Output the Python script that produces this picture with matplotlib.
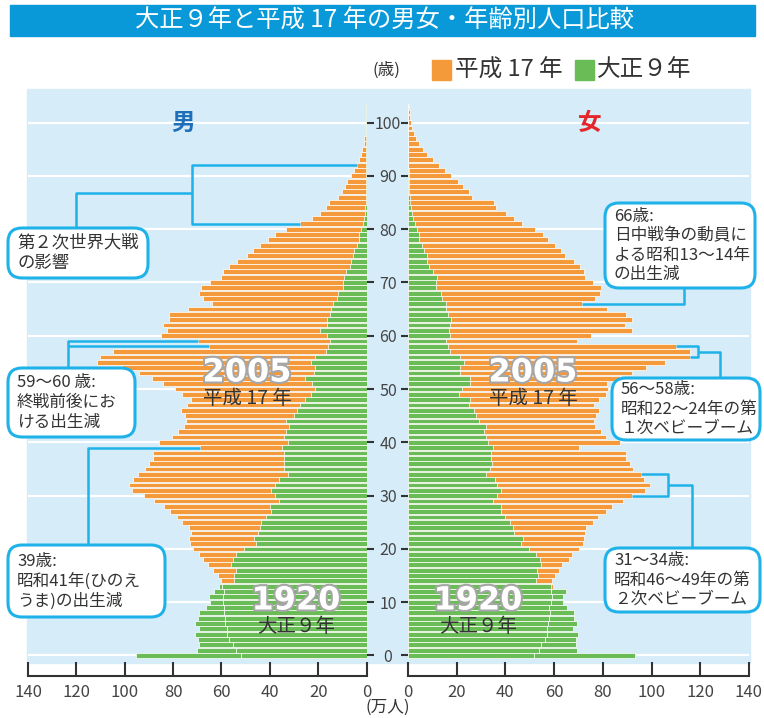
import matplotlib
matplotlib.use("Agg")
import matplotlib.pyplot as plt
import matplotlib.patheffects as pe
from matplotlib.patches import Rectangle, FancyBboxPatch
import numpy as np

plt.rcParams["font.family"] = ["Noto Sans CJK JP", "DejaVu Sans"]

# population by single year of age, 0..103 (万人)
ages = np.arange(0, 104)

male_2005 = [
    52.1, 54.0, 55.2, 56.9, 57.6, 57.9, 58.7, 58.7, 59.0, 59.0,
    59.2, 59.2, 59.0, 59.8, 60.3, 61.6, 63.5, 65.7, 67.6, 69.3,
    71.8, 73.1, 73.4, 72.7, 73.4, 76.3, 78.4, 81.4, 83.7, 87.9,
    92.0, 97.1, 98.2, 96.7, 94.5, 91.7, 90.1, 88.4, 88.4, 69.0,
    85.8, 80.4, 78.1, 75.6, 74.7, 75.2, 76.9, 74.2, 72.7, 76.3,
    79.2, 84.2, 88.8, 94.1, 101.2, 111.3, 110.3, 104.8, 65.3, 69.7,
    85.1, 82.6, 84.3, 81.8, 81.8, 73.8, 64.0, 67.8, 69.4, 68.6,
    64.7, 60.3, 59.5, 56.9, 53.7, 49.6, 47.1, 44.2, 40.8, 38.0,
    33.1, 27.5, 22.6, 19.3, 16.8, 15.6, 11.6, 10.2, 9.0, 7.9,
    6.6, 5.2, 4.1, 3.3, 2.3, 1.7, 1.2, 1.0, 0.4, 0.3,
    0.2, 0.15, 0.1, 0.05,
]
male_1920 = [
    95.5, 70.0, 69.4, 69.7, 71.1, 69.1, 71.1, 69.7, 69.4, 66.5,
    64.9, 65.3, 63.1, 61.2, 54.8, 54.8, 54.0, 56.1, 55.2, 54.0,
    50.7, 45.5, 46.6, 44.8, 44.1, 43.8, 41.6, 39.7, 39.9, 36.0,
    38.0, 39.4, 37.9, 36.0, 32.5, 34.2, 34.3, 34.3, 34.0, 34.8,
    32.5, 34.0, 33.1, 32.0, 33.1, 29.8, 28.7, 27.5, 25.6, 23.1,
    21.5, 22.6, 25.6, 21.8, 21.5, 23.1, 21.5, 16.9, 16.0, 14.9,
    16.5, 19.4, 16.5, 16.5, 15.3, 14.6, 14.0, 12.4, 11.8, 9.8,
    9.6, 9.4, 8.3, 6.9, 6.3, 5.6, 5.0, 4.1, 3.2, 2.9,
    2.3, 1.5, 1.0, 0.7, 0.5, 0.4, 0.3, 0.25, 0.2, 0.15,
    0.1, 0.1, 0.08, 0.06, 0.05, 0.05, 0.04, 0.04, 0.03, 0.03,
    0.02, 0.02, 0.02, 0.02,
]
female_2005 = [
    51.8, 53.9, 54.4, 56.2, 56.9, 57.2, 57.6, 58.0, 58.3, 58.0,
    58.7, 59.1, 58.7, 59.6, 59.1, 60.2, 61.8, 63.4, 66.1, 67.2,
    70.1, 71.8, 72.3, 72.5, 73.1, 75.9, 78.1, 81.4, 83.7, 88.2,
    92.1, 97.1, 99.2, 96.8, 95.5, 92.4, 91.3, 89.7, 89.4, 70.2,
    87.2, 81.4, 79.2, 76.6, 76.3, 77.1, 78.5, 76.3, 78.5, 81.3,
    82.0, 81.7, 86.9, 92.0, 97.8, 105.6, 115.6, 115.6, 109.9, 69.4,
    75.2, 92.0, 89.2, 92.0, 89.5, 81.6, 71.5, 76.9, 78.8, 79.2,
    76.0, 72.5, 72.2, 70.5, 68.0, 64.5, 62.7, 60.2, 57.4, 55.6,
    52.1, 46.6, 43.7, 40.4, 36.2, 35.4, 26.4, 25.1, 22.6, 20.5,
    17.6, 15.2, 12.7, 10.2, 7.9, 6.1, 4.4, 3.2, 2.3, 1.5,
    1.2, 0.8, 0.7, 0.4,
]
female_1920 = [
    93.0, 69.3, 69.0, 69.0, 69.8, 67.6, 69.3, 68.3, 68.0, 65.3,
    63.6, 63.5, 64.9, 58.7, 52.5, 53.3, 53.0, 54.5, 54.1, 52.5,
    49.6, 46.3, 47.4, 43.5, 43.0, 41.9, 39.8, 38.2, 38.0, 34.7,
    36.5, 38.3, 36.5, 35.7, 32.1, 33.7, 34.4, 34.0, 33.9, 34.8,
    33.0, 32.1, 31.3, 32.1, 29.1, 28.1, 27.3, 25.2, 25.5, 21.1,
    22.2, 25.5, 25.6, 21.5, 21.5, 22.9, 21.3, 17.1, 16.4, 15.6,
    17.3, 17.0, 17.2, 17.6, 16.4, 15.7, 15.6, 13.9, 13.5, 11.6,
    11.6, 11.8, 10.3, 8.8, 8.0, 8.0, 6.6, 5.6, 4.6, 4.5,
    3.6, 2.8, 1.9, 1.5, 1.1, 1.0, 0.7, 0.6, 0.5, 0.4,
    0.3, 0.3, 0.2, 0.2, 0.15, 0.1, 0.1, 0.05, 0.05, 0.05,
    0.05, 0.05, 0.05, 0.05,
]

x_ticks = [0, 20, 40, 60, 80, 100, 120, 140]
age_ticks = list(range(0, 101, 10))

ORANGE = "#f59a3b"
GREEN = "#69bc56"
BG = "#d6ecf9"
CYAN = "#1fb2e8"
TEXT = "#333333"

W, H = 764, 718
fig = plt.figure(figsize=(W / 100, H / 100), dpi=100)


def box(l, t, r, b):
    return [l / W, 1 - b / H, (r - l) / W, (b - t) / H]


def overlay(z):
    a = fig.add_axes([0, 0, 1, 1], zorder=z)
    a.set_xlim(0, W)
    a.set_ylim(H, 0)
    a.axis("off")
    a.patch.set_visible(False)
    return a


bg = overlay(0)
bg.add_patch(Rectangle((10, 5), 745, 31, color="#0a99d8"))
bg.add_patch(Rectangle((27, 89), 723, 574, color=BG))

ax_l = fig.add_axes(box(28, 89, 366.5, 663), zorder=1)
ax_r = fig.add_axes(box(408, 89, 749, 663), zorder=1)


def draw_side(ax, v2005, v1920):
    v2005 = np.asarray(v2005)
    v1920 = np.asarray(v1920)
    kw = dict(height=0.9, edgecolor="white", linewidth=0.5)
    ax.barh(ages, v2005, color=ORANGE, zorder=2, **kw)
    ax.barh(ages, np.minimum(v1920, v2005), color=GREEN, zorder=3, **kw)
    extra = np.clip(v1920 - v2005, 0, None)
    m = extra > 0
    ax.barh(ages[m], extra[m], left=v2005[m], color=GREEN, zorder=3, **kw)


draw_side(ax_l, male_2005, male_1920)
draw_side(ax_r, female_2005, female_1920)

for ax in (ax_l, ax_r):
    ax.set_facecolor("none")
    ax.set_ylim(-1.41, 106.3)
    ax.set_yticks(age_ticks)
    ax.yaxis.grid(True, color="white", linewidth=1.6)
    ax.set_axisbelow(True)
    ax.set_xticks(x_ticks)
    for s in ("top", "left", "right"):
        ax.spines[s].set_visible(False)
    ax.spines["bottom"].set_position(("outward", 9))
    ax.spines["bottom"].set_linewidth(1.5)
    ax.spines["bottom"].set_color(TEXT)
    ax.tick_params(axis="x", direction="in", length=10, width=1.5, color=TEXT,
                   labelsize=12, labelcolor="#444444", pad=6)

ax_l.set_xlim(140, 0)
ax_r.set_xlim(0, 140)
ax_l.yaxis.tick_right()
ax_l.tick_params(axis="y", direction="out", length=5, width=1.5, color=TEXT,
                 labelright=False)
ax_r.tick_params(axis="y", direction="out", length=5, width=1.5, color=TEXT,
                 labelsize=11.5, labelcolor="#444444", pad=9.4)
plt.setp(ax_r.get_yticklabels(), ha="center")

top = overlay(5)


def px(ax, x, y):
    X, Y = ax.transData.transform((x, y))
    return X, H - Y


# title and legend
top.text(384, 21, "大正９年と平成 17 年の男女・年齢別人口比較", color="white",
         fontsize=17.5, ha="center", va="center")
top.text(386, 70, "(歳)", fontsize=12, color=TEXT, ha="center", va="center")
top.add_patch(Rectangle((432, 60), 19, 20, color=ORANGE))
top.text(455, 70, "平成 17 年", fontsize=17, color=TEXT, va="center")
top.add_patch(Rectangle((575, 60), 19, 20, color=GREEN))
top.text(597, 70, "大正９年", fontsize=17, color=TEXT, va="center")
top.text(388, 707, "(万人)", fontsize=12, color=TEXT, ha="center", va="center")

top.text(183, 123, "男", color="#1f6fb8", fontsize=17, fontweight="bold",
         ha="center", va="center")
top.text(590, 123, "女", color="#e4262a", fontsize=17, fontweight="bold",
         ha="center", va="center")

year_fx = [pe.withStroke(linewidth=3, foreground="#a6a6a6")]
for cx in (247, 533):
    top.text(cx, 373, "2005", fontsize=23, fontweight="bold", color="white",
             family="DejaVu Sans", ha="center", va="center", path_effects=year_fx)
    top.text(cx, 398, "平成 17 年", fontsize=14, color=TEXT, ha="center", va="center")
for cx in (296, 478):
    top.text(cx, 601, "1920", fontsize=23, fontweight="bold", color="white",
             family="DejaVu Sans", ha="center", va="center", path_effects=year_fx)
    top.text(cx, 627, "大正９年", fontsize=14, color=TEXT, ha="center", va="center")


def note(l, t, r, b, text, size=12):
    top.add_patch(FancyBboxPatch((l, t), r - l, b - t,
                                 boxstyle="round,pad=0,rounding_size=14",
                                 fc="white", ec=CYAN, lw=2.2, zorder=3))
    top.text(l + 9, (t + b) / 2, text, fontsize=size, color=TEXT, ha="left",
             va="center", linespacing=1.2, zorder=4)


def line(xs, ys):
    top.plot(xs, ys, color=CYAN, lw=1.8, zorder=2, solid_capstyle="butt")


# left: WWII bracket
xa, ya = px(ax_l, male_2005[92], 92)
xb, yb = px(ax_l, male_2005[81], 81)
line([xa, 192, 192, xb], [ya, ya, yb, yb])
line([192, 76, 76], [193, 193, 228])
note(8, 228, 148, 278, "第２次世界大戦\nの影響", 12.5)

# left: 59-60
xa, ya = px(ax_l, male_2005[59], 59)
xb, yb = px(ax_l, male_2005[58], 58)
line([xa, 68, 68], [ya, ya, 368])
line([xb, 68], [yb, yb])
note(8, 368, 135, 437, "59～60 歳:\n終戦前後にお\nける出生減")

# left: 39
xa, ya = px(ax_l, male_2005[39], 39)
line([xa, 88, 88], [ya, ya, 545])
note(8, 545, 165, 617, "39歳:\n昭和41年(ひのえ\nうま)の出生減")

# right: 66
xa, ya = px(ax_r, female_2005[66], 66)
line([xa, 684, 684], [ya, ya, 288])
note(605, 203, 755, 288, "66歳:\n日中戦争の動員に\nよる昭和13～14年\nの出生減")

# right: 56-58
xa, ya = px(ax_r, female_2005[58], 58)
xb, yb = px(ax_r, female_2005[56], 56)
line([xa, 698, 698, xb], [ya, ya, yb, yb])
line([698, 720, 720], [(ya + yb) / 2, (ya + yb) / 2, 378])
note(612, 378, 760, 440, "56～58歳:\n昭和22～24年の第\n１次ベビーブーム")

# right: 31-34
xa, ya = px(ax_r, female_2005[34], 34)
xb, yb = px(ax_r, female_2005[30], 30)
line([xa, 668, 668, xb], [ya, ya, yb, yb])
line([668, 692, 692], [(ya + yb) / 2, (ya + yb) / 2, 548])
note(605, 548, 760, 612, "31～34歳:\n昭和46～49年の第\n２次ベビーブーム")

fig.savefig("out.png", dpi=100)
